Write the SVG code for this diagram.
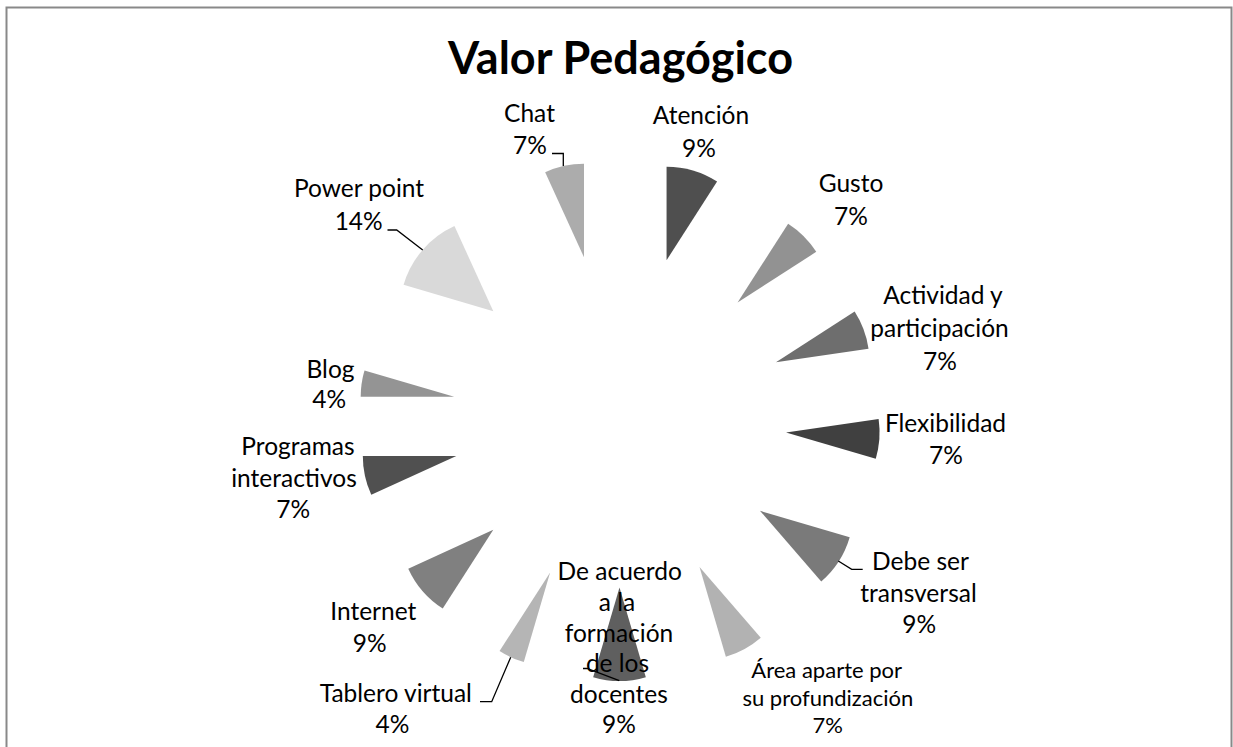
<svg xmlns="http://www.w3.org/2000/svg" width="1233" height="747" viewBox="0 0 1233 747">
<style>
.lbl{font-family:Lato,"Noto Sans","Liberation Sans",sans-serif;font-size:24.5px;fill:#000;text-anchor:middle}
.sm{font-size:22px}
.ttl{font-family:Lato,"Noto Sans","Liberation Sans",sans-serif;font-size:45px;font-weight:bold;fill:#000;text-anchor:middle}
.ldr{fill:none;stroke:#000;stroke-width:1.3}
.frame{fill:none;stroke:#898989;stroke-width:2}
</style>
<rect x="0" y="0" width="1233" height="747" fill="#fff"/>
<path class="frame" d="M6.5,747 V7.5 H1231.5 V747"/>
<text class="ttl" x="620.5" y="74">Valor Pedagógico</text>

<g id="slice-atencion">
<path fill="#4f4f4f" d="M666.55,260.27 L666.55,166.77 A93.5,93.5 0 0 1 717.10,181.61 Z"/>
<text class="lbl" x="701" y="124.3">Atención</text>
<text class="lbl" x="699" y="156.5">9%</text>
</g>
<g id="slice-gusto">
<path fill="#929292" d="M737.59,302.41 L788.14,223.75 A93.5,93.5 0 0 1 816.25,251.86 Z"/>
<text class="lbl" x="851" y="192">Gusto</text>
<text class="lbl" x="851" y="224.5">7%</text>
</g>
<g id="slice-actividad">
<path fill="#6e6e6e" d="M775.97,362.14 L854.63,311.59 A93.5,93.5 0 0 1 868.52,348.83 Z"/>
<text class="lbl" x="943" y="304">Actividad y</text>
<text class="lbl" x="939.5" y="337">participación</text>
<text class="lbl" x="940" y="369.5">7%</text>
</g>
<g id="slice-flexibilidad">
<path fill="#404040" d="M786.07,432.41 L878.62,419.10 A93.5,93.5 0 0 1 875.78,458.75 Z"/>
<text class="lbl" x="945.5" y="431.7">Flexibilidad</text>
<text class="lbl" x="946" y="464">7%</text>
</g>
<g id="slice-debe-ser">
<path fill="#7a7a7a" d="M759.99,510.79 L849.70,537.13 A93.5,93.5 0 0 1 821.22,581.45 Z"/>
<text class="lbl" x="920.5" y="570">Debe ser</text>
<text class="lbl" x="918.5" y="601.7">transversal</text>
<text class="lbl" x="919.2" y="632.7">9%</text>
</g>
<g id="slice-area">
<path fill="#b2b2b2" d="M699.54,567.07 L760.77,637.73 A93.5,93.5 0 0 1 725.88,656.78 Z"/>
<text class="lbl sm" x="826.7" y="678.3">Área aparte por</text>
<text class="lbl sm" x="827.8" y="705.5">su profundización</text>
<text class="lbl sm" x="827.8" y="733.3">7%</text>
</g>
<g id="slice-de-acuerdo">
<path fill="#5f5f5f" d="M619.5,587.5 L645.84,677.21 A93.5,93.5 0 0 1 593.16,677.21 Z"/>
<text class="lbl" x="619.7" y="580">De acuerdo</text>
<text class="lbl" x="617" y="611">a la</text>
<text class="lbl" x="619" y="641.5">formación</text>
<text class="lbl" x="617.5" y="672">de los</text>
<text class="lbl" x="619" y="703">docentes</text>
<text class="lbl" x="619" y="733.3">9%</text>
</g>
<g id="slice-tablero">
<path fill="#b5b5b5" d="M550.12,572.41 L523.78,662.12 A93.5,93.5 0 0 1 499.57,651.07 Z"/>
<text class="lbl" x="395.8" y="701.7">Tablero virtual</text>
<text class="lbl" x="392.5" y="733.3">4%</text>
</g>
<g id="slice-internet">
<path fill="#808080" d="M493.29,529.86 L442.74,608.52 A93.5,93.5 0 0 1 408.24,568.70 Z"/>
<text class="lbl" x="373.3" y="620">Internet</text>
<text class="lbl" x="369.7" y="651.7">9%</text>
</g>
<g id="slice-programas">
<path fill="#505050" d="M456.32,456.0 L371.27,494.84 A93.5,93.5 0 0 1 362.82,456.0 Z"/>
<text class="lbl" x="298" y="455">Programas</text>
<text class="lbl" x="294" y="486.7">interactivos</text>
<text class="lbl" x="293.3" y="518.3">7%</text>
</g>
<g id="slice-blog">
<path fill="#949494" d="M454.20,396.73 L360.70,396.73 A93.5,93.5 0 0 1 364.49,370.39 Z"/>
<text class="lbl" x="330.5" y="378.3">Blog</text>
<text class="lbl" x="329.2" y="408.3">4%</text>
</g>
<g id="slice-power-point">
<path fill="#d9d9d9" d="M493.29,311.14 L403.58,284.80 A93.5,93.5 0 0 1 454.45,226.09 Z"/>
<text class="lbl" x="359" y="197.3">Power point</text>
<text class="lbl" x="358.7" y="230">14%</text>
</g>
<g id="slice-chat">
<path fill="#acacac" d="M584.0,257.27 L545.16,172.22 A93.5,93.5 0 0 1 584.0,163.77 Z"/>
<text class="lbl" x="529.5" y="121.5">Chat</text>
<text class="lbl" x="530" y="154">7%</text>
</g>

<g id="connectors">
<path class="ldr" d="M552,153.5 H563.3 V166"/>
<path class="ldr" d="M387.5,230 H396.7 L422.7,250"/>
<path class="ldr" d="M862.7,569.3 H851.7 L838.3,561"/>
<path class="ldr" d="M480,701.7 H491.7 L510.7,657.3"/>
<path class="ldr" d="M583,668.5 H587 L619.3,680.7"/>
</g>
</svg>
